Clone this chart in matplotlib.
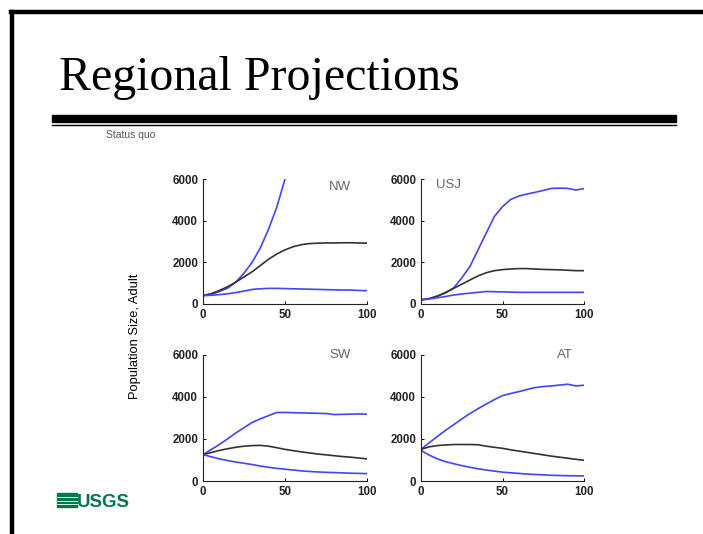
import matplotlib
matplotlib.use("Agg")
import matplotlib.pyplot as plt
from matplotlib.lines import Line2D
from matplotlib.patches import Rectangle

# ---- data (years, adult population size) ----
years = [0, 5, 10, 15, 20, 25, 30, 35, 40, 45, 50, 55, 60, 65, 70, 75, 80, 85, 90, 95, 100]

nw_years_hi = [0, 5, 10, 15, 20, 25, 30, 35, 40, 45, 50]
nw_hi = [400, 460, 600, 760, 1050, 1480, 2000, 2700, 3600, 4650, 6000]
nw_mid = [400, 500, 650, 830, 1050, 1300, 1550, 1850, 2150, 2400, 2600, 2750, 2850, 2900, 2920, 2930, 2930, 2940, 2940, 2930, 2920]
nw_lo = [400, 420, 450, 490, 550, 620, 700, 730, 750, 750, 740, 730, 720, 710, 700, 690, 680, 670, 670, 650, 640]

usj_hi = [200, 250, 370, 530, 770, 1250, 1800, 2600, 3400, 4200, 4670, 5020, 5180, 5280, 5360, 5450, 5550, 5560, 5550, 5470, 5540]
usj_mid = [200, 260, 380, 550, 750, 950, 1150, 1350, 1500, 1600, 1650, 1680, 1700, 1700, 1680, 1660, 1650, 1640, 1620, 1600, 1600]
usj_lo = [200, 240, 300, 360, 430, 480, 520, 560, 600, 590, 580, 570, 560, 560, 560, 560, 560, 560, 560, 560, 560]

sw_hi = [1250, 1490, 1730, 2000, 2280, 2530, 2780, 2950, 3100, 3250, 3250, 3240, 3230, 3220, 3210, 3200, 3150, 3160, 3170, 3180, 3170]
sw_mid = [1250, 1350, 1450, 1530, 1600, 1650, 1680, 1690, 1650, 1580, 1500, 1440, 1380, 1330, 1280, 1240, 1200, 1160, 1130, 1090, 1050]
sw_lo = [1250, 1150, 1050, 970, 900, 840, 780, 710, 650, 600, 560, 520, 480, 450, 430, 410, 400, 385, 370, 360, 350]

at_hi = [1500, 1810, 2110, 2400, 2670, 2940, 3200, 3430, 3650, 3860, 4050, 4150, 4240, 4340, 4430, 4480, 4510, 4550, 4590, 4510, 4540]
at_mid = [1500, 1620, 1680, 1710, 1730, 1730, 1730, 1720, 1650, 1600, 1550, 1480, 1420, 1360, 1300, 1240, 1180, 1130, 1080, 1030, 980]
at_lo = [1450, 1230, 1050, 920, 820, 730, 650, 580, 520, 470, 420, 390, 360, 330, 310, 290, 270, 260, 250, 245, 240]

regions = ["NW", "USJ", "SW", "AT"]
x_ticks = [0, 50, 100]
y_ticks = [0, 2000, 4000, 6000]

BLUE = "#4444ff"
DARK = "#333333"
LABEL_GRAY = "#666666"

fig = plt.figure(figsize=(7.03, 5.34), dpi=100)
W, H = 703, 534

def fx(px):
    return px / W

def fy(py):
    return 1 - py / H

# slide frame
fig.add_artist(Line2D([fx(12), fx(12)], [fy(11.5), 0], color="black", lw=3.2, transform=fig.transFigure))
fig.add_artist(Line2D([fx(10.5), 1], [fy(11.5), fy(11.5)], color="black", lw=3.2, transform=fig.transFigure))

# title
fig.text(fx(59), fy(90), "Regional Projections", family="Liberation Serif", fontsize=34.5,
         va="baseline", ha="left", color="black")

# rules
fig.add_artist(Rectangle((fx(52), fy(122)), fx(676) - fx(52), fy(115) - fy(122), color="black",
                         transform=fig.transFigure))
fig.add_artist(Line2D([fx(52), fx(676)], [fy(124.8), fy(124.8)], color="black", lw=1.0,
                      transform=fig.transFigure))

fig.text(fx(106), fy(135), "Status quo", family="Liberation Sans", fontsize=7.5,
         color="#555555", va="center", ha="left")

# panels
boxes = {
    "NW": (203, 179, 367, 304),
    "USJ": (421, 179, 584, 304),
    "SW": (203, 354.5, 367, 481),
    "AT": (421, 354.5, 584, 481),
}
label_pos = {"NW": (0.835, 0.94), "USJ": (0.17, 0.95), "SW": (0.835, 0.995), "AT": (0.883, 0.995)}
series = {
    "NW": [(nw_years_hi, nw_hi, BLUE), (years, nw_mid, DARK), (years, nw_lo, BLUE)],
    "USJ": [(years, usj_hi, BLUE), (years, usj_mid, DARK), (years, usj_lo, BLUE)],
    "SW": [(years, sw_hi, BLUE), (years, sw_mid, DARK), (years, sw_lo, BLUE)],
    "AT": [(years, at_hi, BLUE), (years, at_mid, DARK), (years, at_lo, BLUE)],
}

for name in regions:
    l, t, r, b = boxes[name]
    ax = fig.add_axes([fx(l), fy(b), fx(r) - fx(l), fy(t) - fy(b)])
    for xs, ys, c in series[name]:
        ax.plot(xs, ys, color=c, lw=1.2)
    ax.set_xlim(0, 100)
    ax.set_ylim(0, 6000)
    ax.set_xticks(x_ticks)
    ax.set_yticks(y_ticks)
    for s in ("top", "right"):
        ax.spines[s].set_visible(False)
    for s in ("left", "bottom"):
        ax.spines[s].set_linewidth(0.8)
        ax.spines[s].set_color("#222222")
    ax.tick_params(direction="in", length=2.5, width=0.7, pad=3.5, labelsize=8.3)
    for lab in ax.get_xticklabels() + ax.get_yticklabels():
        lab.set_family("Liberation Sans")
        lab.set_fontweight("bold")
        lab.set_color("#222222")
    ax.text(label_pos[name][0], label_pos[name][1], name, transform=ax.transAxes,
            family="Liberation Sans", fontsize=9.5, color=LABEL_GRAY, ha="center", va="center")
    ax.patch.set_alpha(0)

fig.text(fx(135), fy(336), "Population Size, Adult", rotation=90, family="Liberation Sans",
         fontsize=9.3, color="black", ha="center", va="center")

# USGS logo
GREEN = "#00784a"
fig.add_artist(Rectangle((fx(57), fy(507)), fx(20), fy(493) - fy(507), color=GREEN,
                         transform=fig.transFigure))
for yy in (497, 500.5, 504):
    fig.add_artist(Line2D([fx(57), fx(77)], [fy(yy), fy(yy)], color="white", lw=0.6,
                          transform=fig.transFigure))
fig.text(fx(77), fy(507), "USGS", family="Liberation Sans", fontsize=13.5, fontweight="bold",
         color=GREEN, ha="left", va="baseline")

fig.savefig("out.png", dpi=100)
